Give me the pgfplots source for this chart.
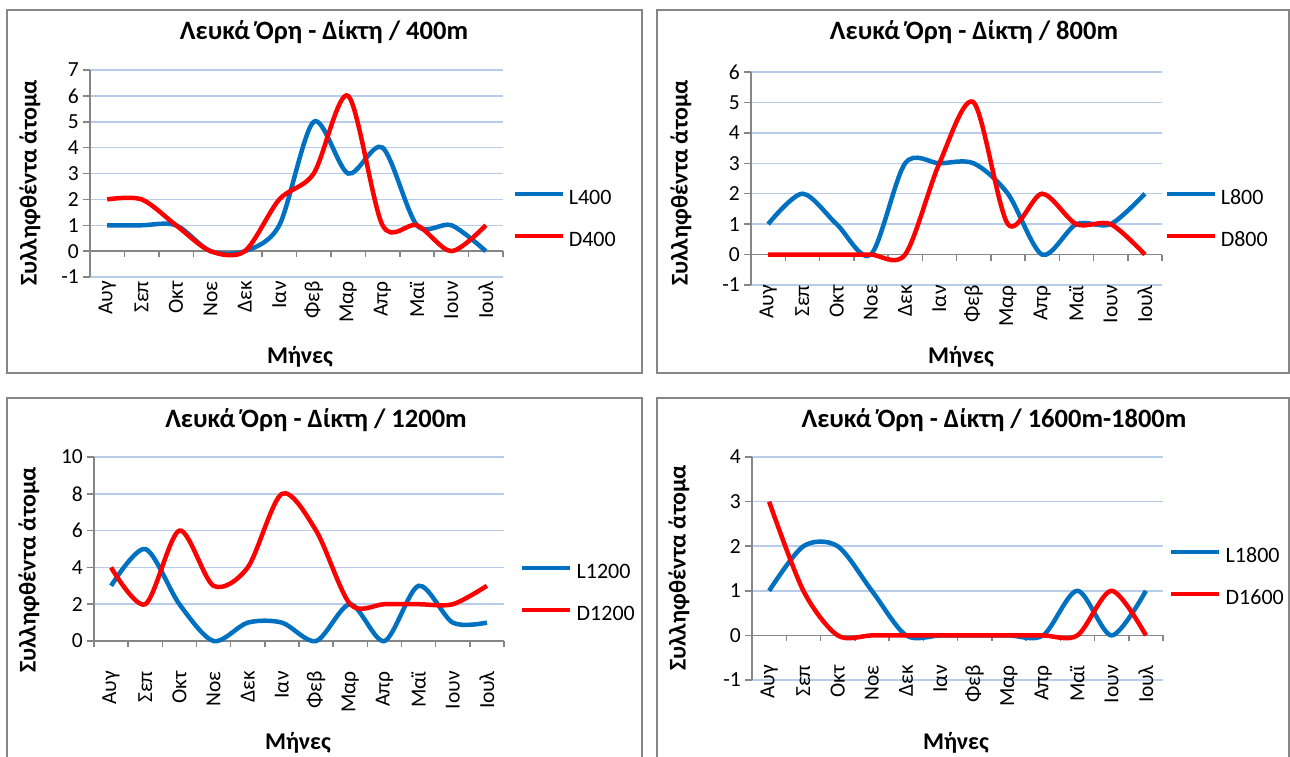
\documentclass[border=0pt]{standalone}
\usepackage{fontspec}
\setmainfont{Carlito}
\usepackage{pgfplots}
\pgfplotsset{compat=1.18}

\definecolor{lblue}{RGB}{0,112,192}
\definecolor{dred}{RGB}{255,0,0}
\definecolor{gridblue}{RGB}{184,204,233}
\definecolor{axgray}{RGB}{134,134,134}

\pgfplotsset{
  monthpanel/.style={
    scale only axis,
    clip=false,
    xmin=-0.5, xmax=11.5,
    axis y line*=left, axis x line*=bottom,
    x axis line style={draw=none},
    y axis line style={axgray, line width=1.5pt},
    xtick={0,...,11},
    xticklabels={Αυγ,Σεπ,Οκτ,Νοε,Δεκ,Ιαν,Φεβ,Μαρ,Απρ,Μαϊ,Ιουν,Ιουλ},
    xtick style={draw=none},
    ytick style={axgray, line width=1.5pt},
    tick align=outside,
    major tick length=7pt,
    ymajorgrids,
    major grid style={gridblue, line width=1.5pt},
    tick label style={font=\fontsize{21.5}{24}\selectfont, text=black},
    x tick label style={rotate=90, anchor=east, inner sep=0pt},
    y tick label style={inner sep=4pt},
    every axis plot/.append style={smooth, line width=4.5pt, no markers},
    legend cell align=left,
    legend style={draw=none, fill=none, inner sep=0pt, anchor=north west,
      row sep=22pt, font=\fontsize{22}{25}\selectfont,
      nodes={inner sep=0pt, text height=15pt, text depth=5pt},
      /tikz/every odd column/.append style={column sep=4pt}},
    legend image code/.code={\draw[#1] (0pt,5pt) -- (48pt,5pt);},
  },
}

% horizontal axis through zero, with ticks between the months
\newcommand{\zeroline}{%
  \draw[axgray, line width=1.5pt] (axis cs:-0.5,0) -- (axis cs:11.5,0);
  \pgfplotsinvokeforeach{-0.5,0.5,...,11.5}{%
    \draw[axgray, line width=1.5pt] (axis cs:##1,0) -- ([yshift=-6pt]axis cs:##1,0);}%
}

\tikzset{
  ptitle/.style={font=\bfseries\fontsize{26.5}{30}\selectfont},
  plabel/.style={font=\bfseries\fontsize{24}{28}\selectfont},
  frame/.style={draw=axgray, line width=2pt},
}

\begin{document}
\begin{tikzpicture}
\useasboundingbox (0pt,0pt) rectangle (1290pt,-756pt);

% panel frames
\draw[frame] (7pt,-10pt) rectangle (642pt,-373pt);
\draw[frame] (657pt,-10pt) rectangle (1289pt,-373pt);
\draw[frame] (7pt,-398pt) rectangle (642pt,-800pt);
\draw[frame] (657pt,-398pt) rectangle (1289pt,-800pt);

% ---------------- 400m ----------------
\begin{axis}[monthpanel,
  at={(90pt,-277pt)}, anchor=south west,
  width=413pt, height=207pt,
  ymin=-1, ymax=7, ytick={-1,0,...,7}, yticklabels={-1,0,1,2,3,4,5,6,7},
  xticklabel shift=-3pt,
  legend style={at={(1.022,0.425)}}]
\zeroline
\addplot[lblue] coordinates {(0,1) (1,1) (2,1) (3,0) (4,0) (5,1) (6,5) (7,3) (8,4) (9,1) (10,1) (11,0)};
\addlegendentry{L400}
\addplot[dred] coordinates {(0,2) (1,2) (2,1) (3,0) (4,0) (5,2) (6,3) (7,6) (8,1) (9,1) (10,0) (11,1)};
\addlegendentry{D400}
\end{axis}
\node[ptitle] at (324pt,-32pt) {Λευκά Όρη - Δίκτη / 400m};
\node[plabel, rotate=90] at (30pt,-183pt) {Συλληφθέντα άτομα};
\node[plabel] at (300pt,-357pt) {Μήνες};

% ---------------- 800m ----------------
\begin{axis}[monthpanel,
  at={(751pt,-285pt)}, anchor=south west,
  width=411pt, height=213pt,
  ymin=-1, ymax=6, ytick={-1,0,...,6}, yticklabels={-1,0,1,2,3,4,5,6},
  xticklabel shift=-7pt,
  legend style={at={(1.005,0.4507)}}]
\zeroline
\addplot[lblue] coordinates {(0,1) (1,2) (2,1) (3,0) (4,3) (5,3) (6,3) (7,2) (8,0) (9,1) (10,1) (11,2)};
\addlegendentry{L800}
\addplot[dred] coordinates {(0,0) (1,0) (2,0) (3,0) (4,0) (5,3) (6,5) (7,1) (8,2) (9,1) (10,1) (11,0)};
\addlegendentry{D800}
\end{axis}
\node[ptitle] at (974pt,-32pt) {Λευκά Όρη - Δίκτη / 800m};
\node[plabel, rotate=90] at (681pt,-183pt) {Συλληφθέντα άτομα};
\node[plabel] at (961pt,-357pt) {Μήνες};

% ---------------- 1200m ----------------
\begin{axis}[monthpanel,
  at={(94pt,-641pt)}, anchor=south west,
  width=410pt, height=184pt,
  ymin=0, ymax=10, ytick={0,2,...,10}, yticklabels={0,2,4,6,8,10},
  xticklabel shift=23pt,
  legend style={at={(1.039,0.424)}}]
\zeroline
\addplot[lblue] coordinates {(0,3) (1,5) (2,2) (3,0) (4,1) (5,1) (6,0) (7,2) (8,0) (9,3) (10,1) (11,1)};
\addlegendentry{L1200}
\addplot[dred] coordinates {(0,4) (1,2) (2,6) (3,3) (4,4) (5,8) (6,6) (7,2) (8,2) (9,2) (10,2) (11,3)};
\addlegendentry{D1200}
\end{axis}
\node[ptitle] at (316pt,-420pt) {Λευκά Όρη - Δίκτη / 1200m};
\node[plabel, rotate=90] at (29pt,-570pt) {Συλληφθέντα άτομα};
\node[plabel] at (298pt,-743pt) {Μήνες};

% ---------------- 1600m-1800m ----------------
\begin{axis}[monthpanel,
  at={(752pt,-680pt)}, anchor=south west,
  width=411pt, height=223pt,
  ymin=-1, ymax=4, ytick={-1,0,...,4}, yticklabels={-1,0,1,2,3,4},
  xticklabel shift=-22pt,
  legend style={at={(1.0146,0.5964)}}]
\zeroline
\addplot[lblue] coordinates {(0,1) (1,2) (2,2) (3,1) (4,0) (5,0) (6,0) (7,0) (8,0) (9,1) (10,0) (11,1)};
\addlegendentry{L1800}
\addplot[dred] coordinates {(0,3) (1,1) (2,0) (3,0) (4,0) (5,0) (6,0) (7,0) (8,0) (9,0) (10,1) (11,0)};
\addlegendentry{D1600}
\end{axis}
\node[ptitle] at (994pt,-420pt) {Λευκά Όρη - Δίκτη / 1600m-1800m};
\node[plabel, rotate=90] at (679pt,-568pt) {Συλληφθέντα άτομα};
\node[plabel] at (956pt,-743pt) {Μήνες};
\end{tikzpicture}
\end{document}
